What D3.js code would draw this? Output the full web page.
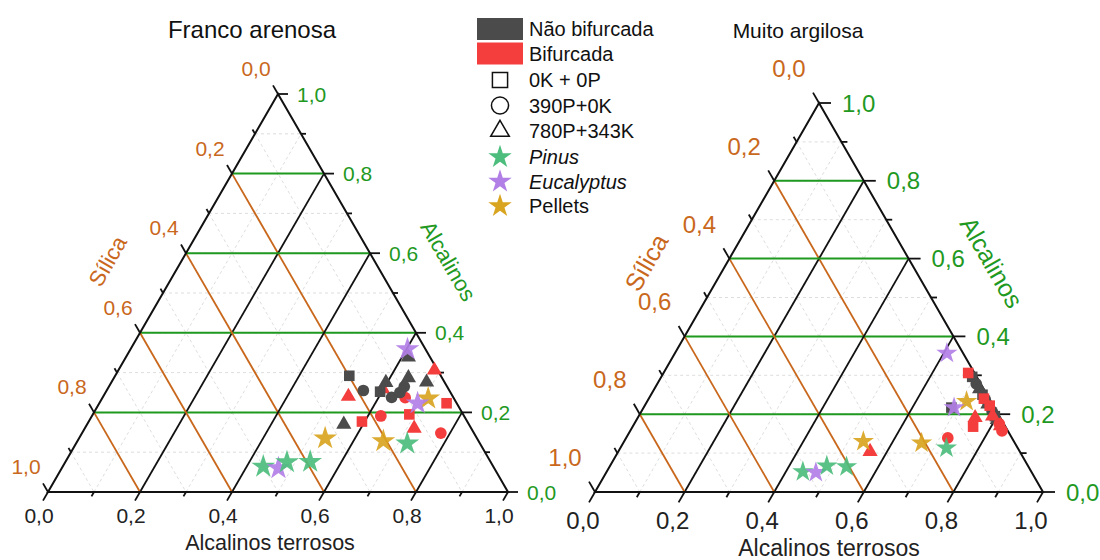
<!DOCTYPE html>
<html>
<head>
<meta charset="utf-8">
<script src="https://cdn.jsdelivr.net/npm/d3@7"></script>
<style>
  body { margin: 0; background: #fff; }
  svg { font-family: Arial, "Liberation Sans", sans-serif; }
</style>
</head>
<body>
<svg id="chart" width="1100" height="560"></svg>
<script>
// rows: [grupo, forma, alcalinos terrosos, alcalinos, sílica]
const francoArenosa = [
  ['bif', 'quadrado', 0.755, 0.223, 0.022],
  ['bif', 'quadrado', 0.594, 0.177, 0.229],
  ['bif', 'quadrado', 0.688, 0.195, 0.117],
  ['bif', 'circulo', 0.658, 0.237, 0.105],
  ['bif', 'circulo', 0.628, 0.191, 0.181],
  ['bif', 'circulo', 0.780, 0.148, 0.072],
  ['bif', 'triangulo', 0.687, 0.306, 0.007],
  ['bif', 'triangulo', 0.533, 0.240, 0.227],
  ['bif', 'triangulo', 0.598, 0.259, 0.143],
  ['bif', 'triangulo', 0.716, 0.160, 0.124],
  ['nao', 'quadrado', 0.509, 0.292, 0.199],
  ['nao', 'quadrado', 0.596, 0.252, 0.152],
  ['nao', 'circulo', 0.558, 0.255, 0.187],
  ['nao', 'circulo', 0.628, 0.238, 0.134],
  ['nao', 'circulo', 0.640, 0.250, 0.110],
  ['nao', 'circulo', 0.642, 0.265, 0.093],
  ['nao', 'triangulo', 0.614, 0.339, 0.047],
  ['nao', 'triangulo', 0.597, 0.275, 0.128],
  ['nao', 'triangulo', 0.640, 0.287, 0.073],
  ['nao', 'triangulo', 0.685, 0.276, 0.039],
  ['nao', 'triangulo', 0.558, 0.170, 0.272],
  ['pellets', 'estrela', 0.535, 0.135, 0.330],
  ['pellets', 'estrela', 0.665, 0.128, 0.207],
  ['pellets', 'estrela', 0.709, 0.235, 0.056],
  ['pinus', 'estrela', 0.720, 0.122, 0.158],
  ['pinus', 'estrela', 0.436, 0.064, 0.500],
  ['eucalyptus', 'estrela', 0.471, 0.060, 0.469],
  ['pinus', 'estrela', 0.482, 0.075, 0.443],
  ['pinus', 'estrela', 0.532, 0.076, 0.392],
  ['eucalyptus', 'estrela', 0.602, 0.359, 0.039],
  ['eucalyptus', 'estrela', 0.692, 0.223, 0.085],
]

const muitoArgilosa = [
  ['nao', 'quadrado', 0.687, 0.217, 0.096],
  ['nao', 'quadrado', 0.694, 0.296, 0.010],
  ['nao', 'quadrado', 0.740, 0.250, 0.010],
  ['nao', 'quadrado', 0.795, 0.195, 0.010],
  ['nao', 'circulo', 0.712, 0.278, 0.010],
  ['nao', 'circulo', 0.752, 0.238, 0.010],
  ['nao', 'circulo', 0.783, 0.207, 0.010],
  ['nao', 'triangulo', 0.726, 0.265, 0.009],
  ['nao', 'triangulo', 0.764, 0.226, 0.010],
  ['nao', 'triangulo', 0.805, 0.186, 0.009],
  ['bif', 'quadrado', 0.680, 0.306, 0.014],
  ['bif', 'quadrado', 0.748, 0.240, 0.012],
  ['bif', 'quadrado', 0.760, 0.168, 0.072],
  ['bif', 'quadrado', 0.770, 0.222, 0.008],
  ['bif', 'circulo', 0.718, 0.139, 0.143],
  ['bif', 'circulo', 0.815, 0.175, 0.010],
  ['bif', 'circulo', 0.830, 0.157, 0.013],
  ['bif', 'triangulo', 0.562, 0.104, 0.334],
  ['bif', 'triangulo', 0.753, 0.191, 0.056],
  ['bif', 'triangulo', 0.790, 0.195, 0.015],
  ['bif', 'triangulo', 0.820, 0.170, 0.010],
  ['pellets', 'estrela', 0.534, 0.130, 0.336],
  ['pellets', 'estrela', 0.666, 0.126, 0.208],
  ['pellets', 'estrela', 0.713, 0.233, 0.054],
  ['pinus', 'estrela', 0.728, 0.113, 0.159],
  ['pinus', 'estrela', 0.438, 0.052, 0.510],
  ['eucalyptus', 'estrela', 0.468, 0.050, 0.482],
  ['pinus', 'estrela', 0.484, 0.067, 0.449],
  ['pinus', 'estrela', 0.529, 0.065, 0.406],
  ['eucalyptus', 'estrela', 0.607, 0.357, 0.036],
  ['eucalyptus', 'estrela', 0.693, 0.217, 0.090],
]

const majorTicks = [0, 0.2, 0.4, 0.6, 0.8, 1.0]
const minorTicks = [0.1, 0.3, 0.5, 0.7, 0.9]
const gridSteps = [0.1, 0.2, 0.3, 0.4, 0.5, 0.6, 0.7, 0.8, 0.9]
const majorGrid = [0.2, 0.4, 0.6, 0.8]

const legendColors = [['nao', 'Não bifurcada'], ['bif', 'Bifurcada']]
const legendShapes = [['quadrado', '0K + 0P'], ['circulo', '390P+0K'], ['triangulo', '780P+343K']]
const legendStars = [['pinus', 'Pinus', true], ['eucalyptus', 'Eucalyptus', true], ['pellets', 'Pellets', false]]

const colors = {
  nao: '#4b4b4b', bif: '#f43d3d',
  pinus: '#4dbd7d', eucalyptus: '#b27fe6', pellets: '#d9a420',
}
const orange = '#c9681c'
const green = '#1f991f'

const shapes = {
  quadrado: d3.symbolSquare, circulo: d3.symbolCircle,
  triangulo: d3.symbolTriangle, estrela: d3.symbolStar,
}
const shapeSize = { quadrado: 112, circulo: 108, triangulo: 100 }

const fmt = d3.formatLocale({ decimal: ',', thousands: '.', grouping: [3], currency: ['', ''] }).format('.1f')

const svg = d3.select('#chart')

const panels = [
  { title: 'Franco arenosa', rows: francoArenosa, x0: 48, y0: 492, w: 460, h: 398, font: 21, titleFont: 24,
    tick: 10, titleX: 252, bottomDy: 31, bottomDx: -9, leftDx: -22, leftDy: -18, rightDx: 19,
    starSize: 175, axisOff: 64, botFont: 21.5, botTitleX: 270, botTitleY: 550 },
  { title: 'Muito argilosa', rows: muitoArgilosa, x0: 595, y0: 492, w: 448, h: 389, font: 24, titleFont: 21,
    tick: 12, titleX: 798, bottomDy: 37, bottomDx: -12, leftDx: -30, leftDy: -26, rightDx: 23,
    starSize: 140, axisOff: 70, botFont: 23, botTitleX: 829, botTitleY: 556 },
]

panels.forEach(drawPanel)

function drawPanel(cfg) {
  const g = svg.append('g')
  const x = d3.scaleLinear().domain([0, 1]).range([cfg.x0, cfg.x0 + cfg.w])
  const y = d3.scaleLinear().domain([0, 1]).range([cfg.y0, cfg.y0 - cfg.h])
  // ternary -> screen (at = alcalinos terrosos, alc = alcalinos)
  const pt = (at, alc) => [x(at + alc / 2), y(alc)]
  const line = (a, b) => g.append('line')
    .attr('x1', a[0]).attr('y1', a[1]).attr('x2', b[0]).attr('y2', b[1])

  // dashed minor grid, all three families
  gridSteps.forEach(v => {
    [[pt(0, v), pt(1 - v, v)], [pt(0, 1 - v), pt(1 - v, 0)], [pt(v, 0), pt(v, 1 - v)]]
      .forEach(([a, b]) => line(a, b)
        .attr('stroke', '#d4d4d4').attr('stroke-width', 0.8).attr('stroke-dasharray', '3,3'))
  })

  // major grid
  majorGrid.forEach(v => {
    line(pt(0, v), pt(1 - v, v)).attr('stroke', green).attr('stroke-width', 2)
    line(pt(0, 1 - v), pt(1 - v, 0)).attr('stroke', orange).attr('stroke-width', 1.8)
    line(pt(v, 0), pt(v, 1 - v)).attr('stroke', '#111').attr('stroke-width', 1.8)
  })

  // frame
  g.append('path')
    .attr('d', d3.line()([pt(0, 0), pt(1, 0), pt(0, 1)]) + 'Z')
    .attr('fill', 'none').attr('stroke', '#111').attr('stroke-width', 2)

  // ticks
  const c = Math.cos(Math.PI / 3), s = Math.sin(Math.PI / 3)
  const drawTicks = (vals, len) => vals.forEach(v => {
    const b = pt(v, 0)
    line(b, [b[0] - c * len, b[1] + s * len]).attr('stroke', '#111').attr('stroke-width', 1.8)
    const l = pt(0, 1 - v)
    line(l, [l[0] - c * len, l[1] - s * len]).attr('stroke', '#111').attr('stroke-width', 1.8)
    const r = pt(1 - v, v)
    line(r, [r[0] + len, r[1]]).attr('stroke', '#111').attr('stroke-width', 1.8)
  })
  drawTicks(majorTicks, cfg.tick)
  drawTicks(minorTicks, cfg.tick / 2)

  // tick labels
  majorTicks.forEach(v => {
    const b = pt(v, 0)
    g.append('text').attr('x', b[0] + cfg.bottomDx).attr('y', b[1] + cfg.bottomDy)
      .attr('text-anchor', 'middle').attr('font-size', cfg.font).attr('fill', '#222').text(fmt(v))
    const l = pt(0, 1 - v)
    g.append('text').attr('x', l[0] + cfg.leftDx).attr('y', l[1] + cfg.leftDy)
      .attr('text-anchor', 'middle').attr('font-size', cfg.font).attr('fill', orange).text(fmt(v))
    const r = pt(1 - v, v)
    g.append('text').attr('x', r[0] + cfg.rightDx).attr('y', r[1]).attr('dy', '0.36em')
      .attr('font-size', cfg.font).attr('fill', green).text(fmt(v))
  })

  // axis titles
  const lm = pt(0, 0.5), rm = pt(0.5, 0.5)
  g.append('text')
    .attr('transform', `translate(${lm[0] - s * cfg.axisOff},${lm[1] - c * cfg.axisOff}) rotate(-60)`)
    .attr('text-anchor', 'middle').attr('dy', '0.35em').attr('font-size', cfg.font + 1)
    .attr('fill', orange).text('Sílica')
  g.append('text')
    .attr('transform', `translate(${rm[0] + s * cfg.axisOff},${rm[1] - c * cfg.axisOff}) rotate(60)`)
    .attr('text-anchor', 'middle').attr('dy', '0.35em').attr('font-size', cfg.font + 1)
    .attr('fill', green).text('Alcalinos')
  g.append('text').attr('x', cfg.botTitleX).attr('y', cfg.botTitleY)
    .attr('text-anchor', 'middle').attr('font-size', cfg.botFont).attr('fill', '#222')
    .text('Alcalinos terrosos')

  g.append('text').attr('x', cfg.titleX).attr('y', 38)
    .attr('text-anchor', 'middle').attr('font-size', cfg.titleFont).attr('fill', '#111')
    .text(cfg.title)

  // points
  g.selectAll('path.pt')
    .data(cfg.rows)
    .enter().append('path')
    .attr('class', 'pt')
    .attr('transform', d => {
      const p = pt(d[2], d[3])
      return `translate(${p[0]},${p[1]})`
    })
    .attr('d', d => d3.symbol().type(shapes[d[1]])
      .size(d[1] === 'estrela' ? cfg.starSize : shapeSize[d[1]])())
    .attr('fill', d => colors[d[0]])
    .attr('fill-opacity', d => d[1] === 'estrela' ? 0.92 : 1)
}

// legend
const lg = svg.append('g').attr('font-size', 20).attr('fill', '#111')
legendColors.forEach((d, i) => {
  const yy = 29 + i * 24.5
  lg.append('rect').attr('x', 477).attr('y', yy - 11).attr('width', 46).attr('height', 22)
    .attr('fill', colors[d[0]])
  lg.append('text').attr('x', 529).attr('y', yy).attr('dy', '0.36em').text(d[1])
})
legendShapes.forEach((d, i) => {
  const yy = 80 + i * 25.5
  lg.append('path').attr('transform', `translate(500,${yy})`)
    .attr('d', d3.symbol().type(shapes[d[0]]).size(d[0] === 'triangulo' ? 150 : 230)())
    .attr('fill', 'none').attr('stroke', '#111').attr('stroke-width', 1.5)
  lg.append('text').attr('x', 529).attr('y', yy).attr('dy', '0.36em').text(d[1])
})
legendStars.forEach((d, i) => {
  const yy = 157 + i * 24.5
  lg.append('path').attr('transform', `translate(500,${yy})`)
    .attr('d', d3.symbol().type(d3.symbolStar).size(170)())
    .attr('fill', colors[d[0]])
  lg.append('text').attr('x', 529).attr('y', yy).attr('dy', '0.36em')
    .attr('font-style', d[2] ? 'italic' : 'normal').text(d[1])
})
</script>
</body>
</html>
